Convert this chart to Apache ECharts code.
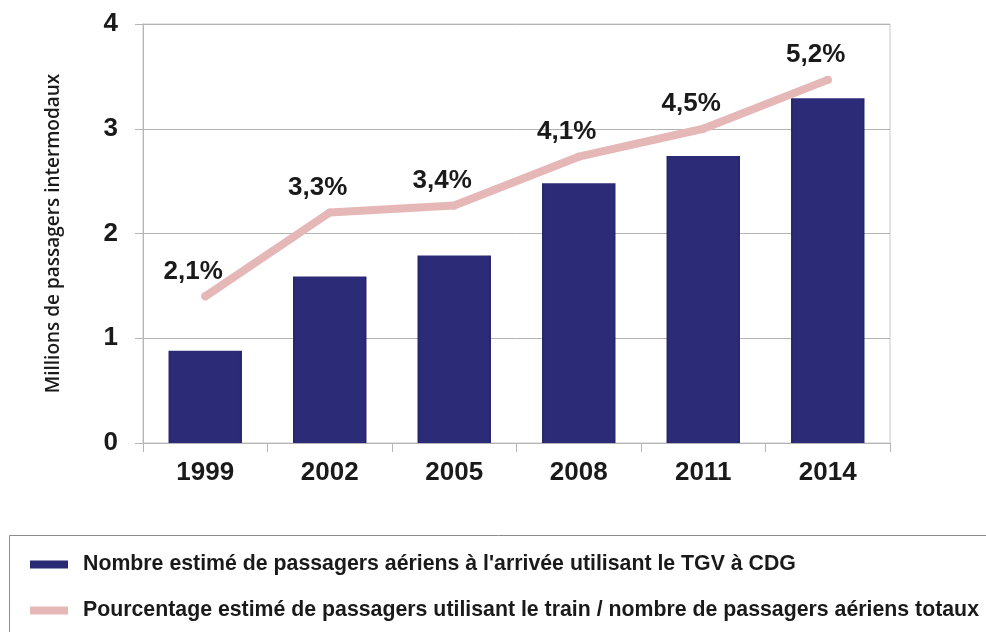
<!DOCTYPE html>
<html>
<head>
<meta charset="utf-8">
<script src="https://cdn.jsdelivr.net/npm/echarts@6/dist/echarts.min.js"></script>
<style>
  html, body { margin: 0; padding: 0; background: #ffffff; }
  #chart { width: 986px; height: 632px; }
</style>
</head>
<body>
<div id="chart"></div>
<script>
// Années de mesure
const years = ['1999', '2002', '2005', '2008', '2011', '2014'];
// Passagers aériens à l'arrivée utilisant le TGV à CDG (millions)
const passengers = [0.88, 1.59, 1.79, 2.48, 2.74, 3.29];
// Part du train dans le nombre total de passagers aériens (%)
const trainShare = [2.1, 3.3, 3.4, 4.1, 4.5, 5.2];
// Graduations de l'axe principal
const yTicks = [0, 1, 2, 3, 4];

const barName = "Nombre estimé de passagers aériens à l'arrivée utilisant le TGV à CDG";
const lineName = 'Pourcentage estimé de passagers utilisant le train / nombre de passagers aériens totaux';

const numFont = 'Liberation Sans, Arial, sans-serif';
const navy = '#2a2a74';
const pink = '#e6b7b7';

const chart = echarts.init(document.getElementById('chart'), null, { renderer: 'canvas' });

chart.setOption({
  backgroundColor: '#ffffff',
  animation: false,
  grid: {
    left: 143, right: 96, top: 24, bottom: 189,
    show: true, borderColor: '#c9c9c9', borderWidth: 1, backgroundColor: 'transparent'
  },
  legend: {
    orient: 'vertical',
    left: 25,
    top: 549,
    itemWidth: 38,
    itemHeight: 8,
    itemGap: 25,
    textStyle: { fontFamily: numFont, fontWeight: 'bold', fontSize: 21.3, color: '#1a1a1a', padding: [0, 0, 0, 10] },
    data: [
      { name: barName, icon: 'rect', itemStyle: { color: navy } },
      { name: lineName, icon: 'rect', itemStyle: { color: pink } }
    ]
  },
  graphic: [{
    type: 'rect',
    silent: true,
    shape: { x: 9.5, y: 535.5, width: 1000, height: 120 },
    style: { fill: 'none', stroke: '#8c8c8c', lineWidth: 1 }
  }],
  xAxis: {
    type: 'category',
    data: years,
    boundaryGap: true,
    axisLine: { show: true, lineStyle: { color: '#b5b5b5', width: 1 } },
    axisTick: { show: true, length: 9, alignWithLabel: false, lineStyle: { color: '#b5b5b5' } },
    axisLabel: { margin: 17, fontFamily: numFont, fontWeight: 'bold', fontSize: 26, color: '#1a1a1a' }
  },
  yAxis: [{
    type: 'value',
    min: yTicks[0],
    max: yTicks[yTicks.length - 1],
    interval: 1,
    name: 'Millions de passagers intermodaux',
    nameLocation: 'middle',
    nameRotate: 90,
    nameGap: 80,
    nameTextStyle: { fontFamily: 'Open Sans, Noto Sans, sans-serif', fontWeight: 600, fontSize: 19, color: '#1a1a1a' },
    axisLine: { show: true, lineStyle: { color: '#b5b5b5', width: 1 } },
    axisTick: { show: true, length: 8, lineStyle: { color: '#b5b5b5' } },
    axisLabel: { margin: 25, fontFamily: numFont, fontWeight: 'bold', fontSize: 26, color: '#1a1a1a' },
    splitLine: { show: true, lineStyle: { color: '#b3b3b3', width: 1 } }
  }, {
    type: 'value',
    min: 0,
    max: 6,
    show: false,
    splitLine: { show: false }
  }],
  series: [{
    name: barName,
    type: 'bar',
    yAxisIndex: 0,
    data: passengers,
    barWidth: '59%',
    itemStyle: {
      color: {
        type: 'linear', x: 0, y: 0, x2: 1, y2: 0,
        colorStops: [
          { offset: 0, color: '#23236a' },
          { offset: 0.04, color: '#2b2b78' },
          { offset: 0.96, color: '#2b2b78' },
          { offset: 1, color: '#23236a' }
        ]
      }
    }
  }, {
    name: lineName,
    type: 'line',
    yAxisIndex: 1,
    data: trainShare,
    symbol: 'circle',
    symbolSize: 8,
    itemStyle: { color: pink },
    lineStyle: { color: pink, width: 8, cap: 'round', join: 'round' },
    label: {
      show: true,
      position: 'top',
      offset: [-12, -3],
      fontFamily: numFont,
      fontWeight: 'bold',
      fontSize: 26,
      color: '#1a1a1a',
      formatter: p => String(p.value).replace('.', ',') + '%'
    },
    z: 3
  }]
});
</script>
</body>
</html>
